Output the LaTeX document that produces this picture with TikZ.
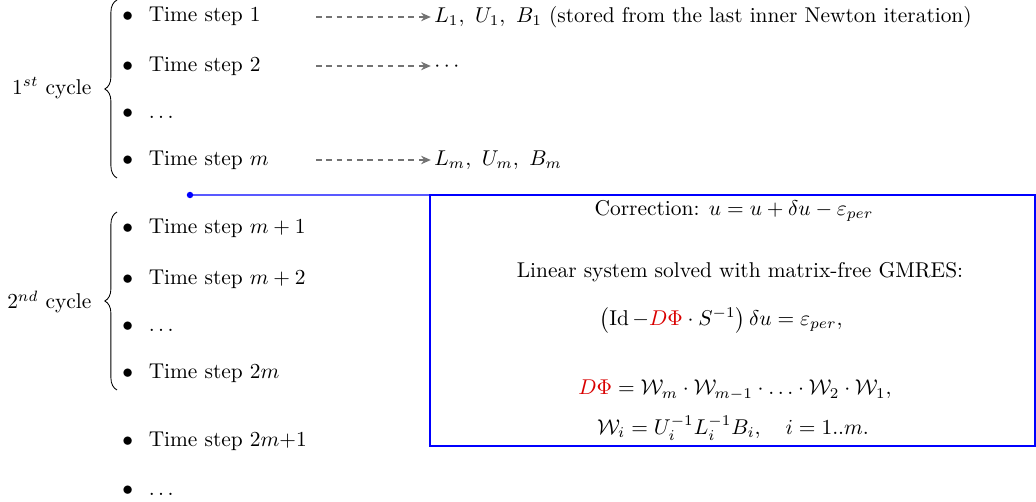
\documentclass[tikz,border=0pt]{standalone}
\usepackage{amsmath, amssymb}
\usepackage{xcolor}
\usetikzlibrary{arrows.meta, positioning, fit, calc, decorations.pathreplacing}

\begin{document}
\begin{tikzpicture}[
        x=0.01642cm, y=-0.01642cm,
        item/.style={anchor=west, inner sep=0pt, text height=1.5ex, text depth=.25ex},
        result/.style={anchor=west, inner sep=0pt, text height=1.5ex, text depth=.25ex},
        store/.style={-{Stealth[length=1.6mm, width=1.4mm]}, dash pattern=on 2.6pt off 2.2pt, draw=black!55, semithick, shorten >=1.5pt},
        cbrace/.style={decorate, decoration={brace, amplitude=2mm}, thin},
        box/.style={rectangle, draw=blue, semithick, inner sep=0pt, outer sep=0pt},
        link/.style={draw=blue, semithick},
        font=\normalsize
    ]
    \useasboundingbox (0,0) rectangle (1036,502);

    % First cycle
    \node (t1) [item] at (122,16) {$\bullet$\hspace{7.3pt}Time step 1};
    \node (t2) [item] at (122,66) {$\bullet$\hspace{7.3pt}Time step 2};
    \node (t3) [item] at (122,113) {$\bullet$\hspace{7.3pt}$\ldots$};
    \node (tm) [item] at (122,160) {$\bullet$\hspace{7.3pt}Time step $m$};

    % Second cycle
    \node (tm1) [item] at (122,228) {$\bullet$\hspace{7.3pt}Time step $m+1$};
    \node (tm2) [item] at (122,279) {$\bullet$\hspace{7.3pt}Time step $m+2$};
    \node (tm3) [item] at (122,326) {$\bullet$\hspace{7.3pt}$\ldots$};
    \node (t2m) [item] at (122,373) {$\bullet$\hspace{7.3pt}Time step $2m$};
    \node (t2m1) [item] at (122,441) {$\bullet$\hspace{7.3pt}Time step 2$m$+1};
    \node (tend) [item] at (122,490) {$\bullet$\hspace{7.3pt}$\ldots$};

    % Braces and cycle labels
    \draw [cbrace] (117,178) -- (117,0);
    \draw [cbrace] (117,390) -- (117,212);
    \node (cyc1) [anchor=east] at (99,88) {$1^{st}$ cycle};
    \node (cyc2) [anchor=east] at (99,302) {$2^{nd}$ cycle};

    % Stored factors
    \coordinate (s1) at (316,17);
    \coordinate (s2) at (316,66);
    \coordinate (sm) at (316,160);
    \node (r1) [result] at (434,17) {$L_1,\ U_1,\ B_1$ (stored from the last inner Newton iteration)};
    \node (r2) [result] at (434,66) {$\cdots$};
    \node (rm) [result] at (434,160) {$L_m,\ U_m,\ B_m$};
    \draw [store] (s1) -- (r1.west);
    \draw [store] (s2) -- (r2.west);
    \draw [store] (sm) -- (rm.west);

    % Correction box
    \node (corr) [box, fit={(430,195) (1035,446)}] {};
    \node (corrtxt) at (734,211) {Correction: $u = u + \delta u - \varepsilon_{per}$};
    \node (lin) at (740,272) {Linear system solved with matrix-free GMRES:};
    \node (eq1) at (721,320) {$\left(\operatorname{Id} -\textcolor{red!85!black}{D\Phi} \cdot S^{-1}\right)\delta u = \varepsilon_{per},$};
    \node (eq2) at (735,390) {$\textcolor{red!85!black}{D\Phi} = \mathcal{W}_m \cdot \mathcal{W}_{m-1} \cdot \ldots \cdot \mathcal{W}_2 \cdot \mathcal{W}_1,$};
    \node (eq3) at (733,428) {$\mathcal{W}_i = U_i^{-1} L_i^{-1} B_i, \quad i = 1..m.$};

    % Link to the box
    \coordinate (lnk) at (190,195);
    \fill [blue] (lnk) circle (1.5pt);
    \draw [link] (lnk) -- (corr.north west);

\end{tikzpicture}
\end{document}
